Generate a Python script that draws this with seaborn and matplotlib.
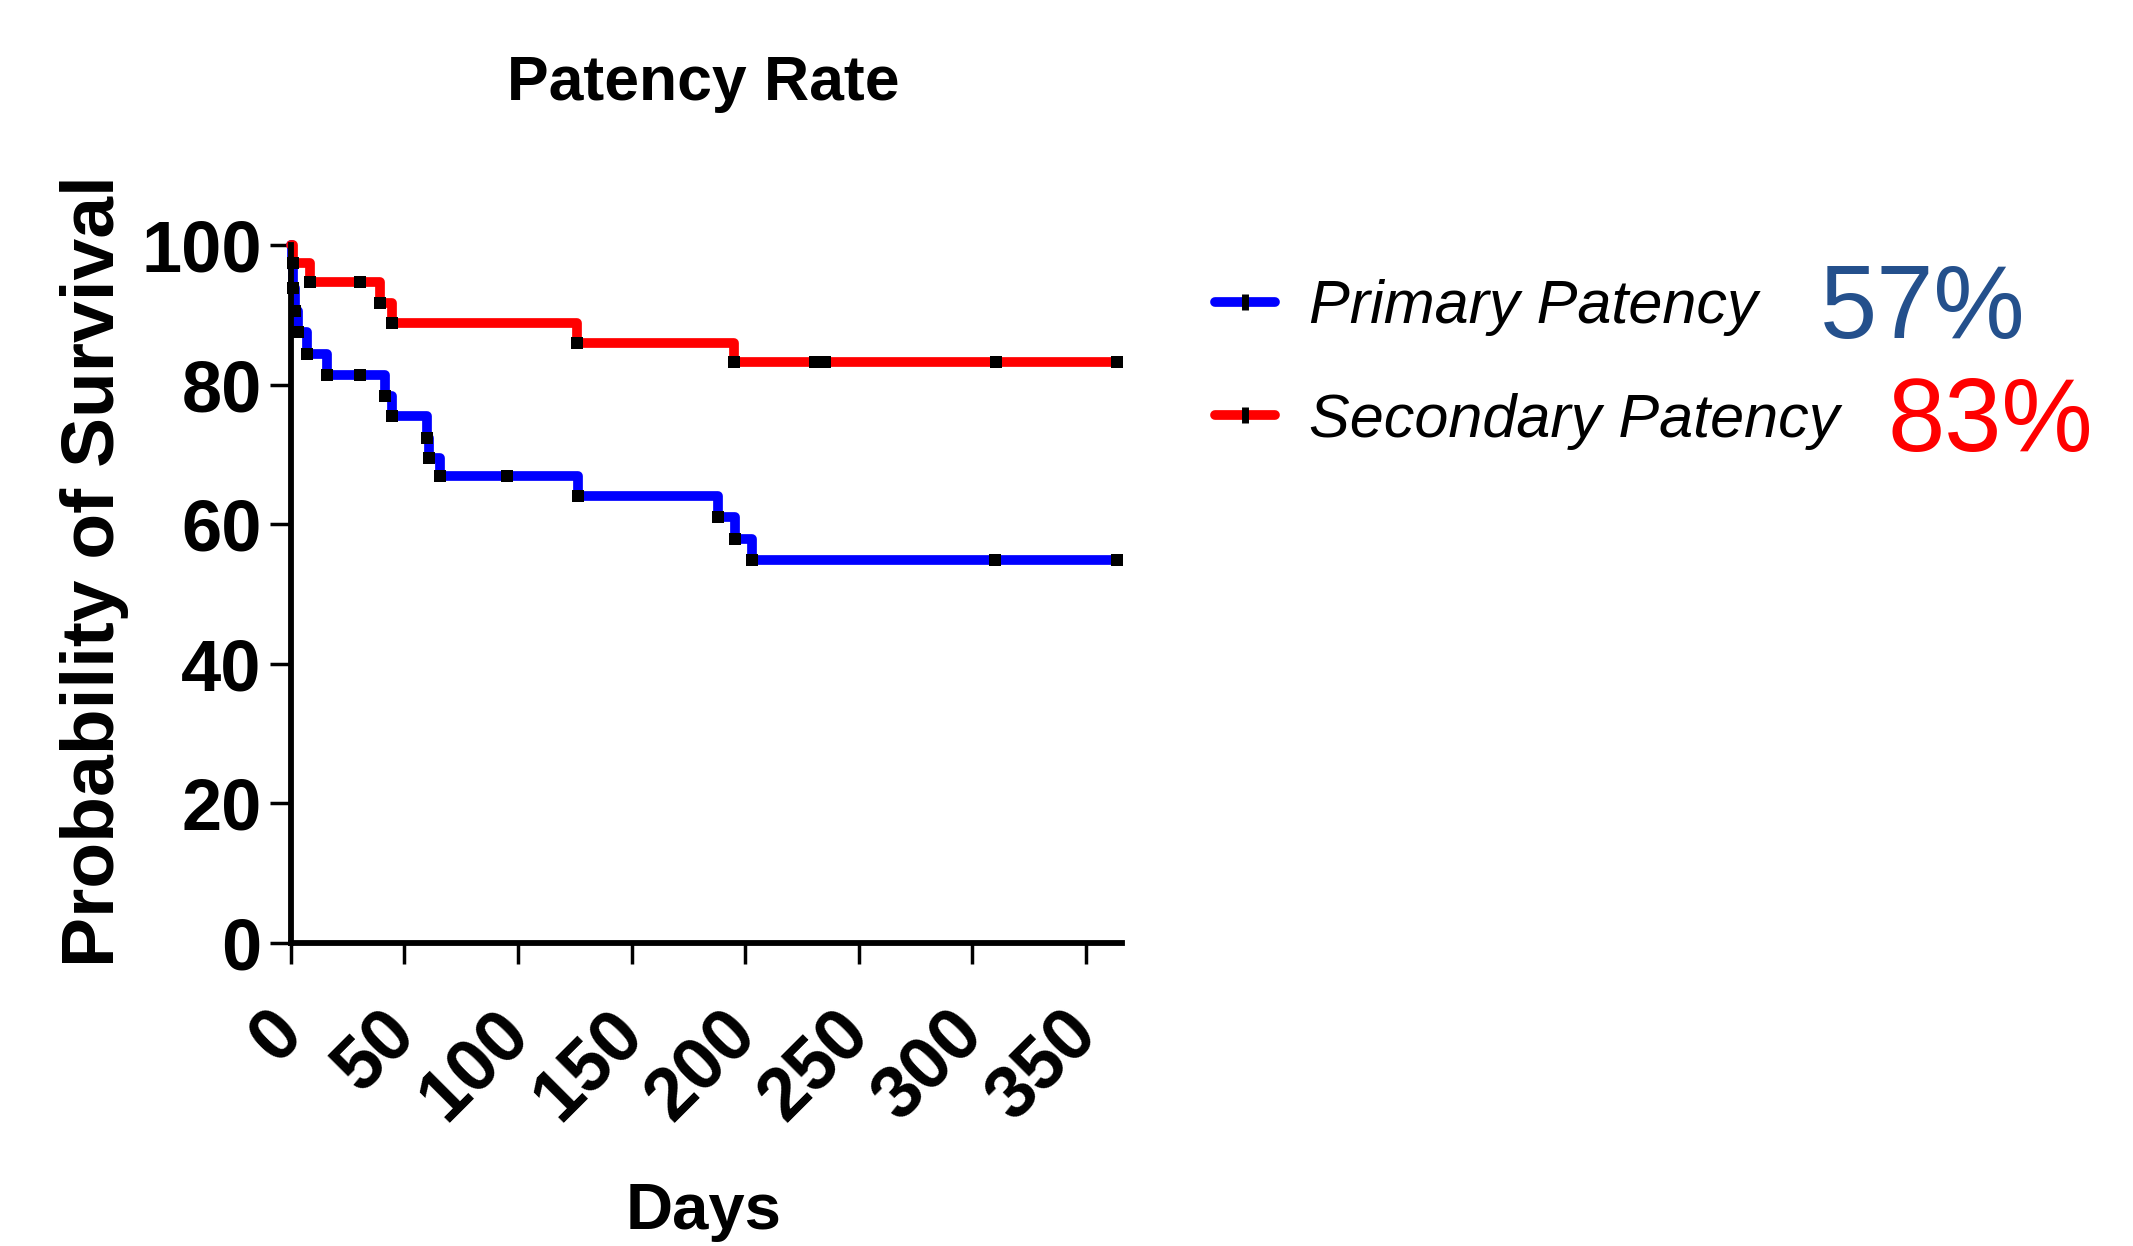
import numpy as np
import pandas as pd
import seaborn as sns
import matplotlib.pyplot as plt
from matplotlib.lines import Line2D

# Kaplan-Meier steps (days, % surviving)
primary_days = [0, 0.3, 1.0, 1.8, 3.2, 6.9, 15.7, 30.4, 41.3, 44.7, 59.9, 60.7, 65.8, 95.3, 126.5, 188, 195.7, 203, 310, 364]
primary_surv = [100, 96.9, 93.8, 90.6, 87.5, 84.4, 81.3, 81.3, 78.4, 75.5, 72.4, 69.5, 66.9, 66.9, 64.0, 61.0, 57.9, 54.8, 54.8, 54.8]
secondary_days = [0, 1.0, 8.4, 30.4, 39.2, 44.4, 126, 195, 231, 235, 310.5, 364]
secondary_surv = [100, 97.4, 94.7, 94.7, 91.7, 88.8, 86.0, 83.3, 83.3, 83.3, 83.3, 83.3]

groups = ['Primary Patency', 'Secondary Patency']
colors = ['#0000FF', '#FF0000']
final_pct = ['57%', '83%']
pct_colors = ['#24508C', '#FF0000']
xticks = [0, 50, 100, 150, 200, 250, 300, 350]
yticks = [0, 20, 40, 60, 80, 100]

df = pd.concat([
    pd.DataFrame({'Days': primary_days, 'Surv': primary_surv, 'Group': groups[0]}),
    pd.DataFrame({'Days': secondary_days, 'Surv': secondary_surv, 'Group': groups[1]}),
], ignore_index=True)
marks = df[df.Days > 0.5]

sns.set_style('ticks')
plt.rcParams['font.family'] = ['Liberation Sans', 'DejaVu Sans']
plt.rcParams['text.color'] = 'black'
plt.rcParams['axes.labelcolor'] = 'black'
plt.rcParams['xtick.color'] = 'black'
plt.rcParams['ytick.color'] = 'black'

fig = plt.figure(figsize=(21.33, 12.46), dpi=100)
ax = fig.add_axes([0.1364, 0.2432, 0.3896, 0.5602])

sns.lineplot(data=df, x='Days', y='Surv', hue='Group', palette=colors,
             drawstyle='steps-post', estimator=None, sort=False,
             lw=7, legend=False, ax=ax, clip_on=False)
# censor / event ticks
sns.scatterplot(data=marks, x='Days', y='Surv', marker='s', color='black',
                s=85, linewidth=0, ax=ax, zorder=3, clip_on=False)

ax.set_xlim(0, 366)
ax.set_ylim(0, 100)
ax.set_xticks(xticks)
ax.set_yticks(yticks)
ax.set_yticklabels([str(t) for t in yticks], fontsize=52, fontweight='bold')
ax.set_xticklabels([str(t) for t in xticks], fontsize=53, fontweight='bold',
                   rotation=45, ha='right', va='center', rotation_mode='anchor')
ax.tick_params(axis='both', width=2.5, length=15, color='black')
ax.tick_params(axis='y', pad=6)
ax.tick_params(axis='x', pad=42)
sns.despine(ax=ax)
for s in ['left', 'bottom']:
    ax.spines[s].set_linewidth(4.2)
    ax.spines[s].set_color('black')

ax.set_xlabel('Days', fontsize=47, fontweight='bold')
ax.set_ylabel('Probability of Survival', fontsize=54, fontweight='bold')
ax.xaxis.set_label_coords(0.496, -0.386)
ax.xaxis.label.set_va('center')
ax.yaxis.set_label_coords(-0.236, 0.533)
ax.yaxis.label.set_va('center')

fig.text(0.3296, 0.9326, 'Patency Rate', fontsize=45, fontweight='bold',
         ha='center', va='center')

handles = [Line2D([], [], color=c, lw=7, marker='|', markeredgecolor='black',
                  markersize=12, markeredgewidth=5) for c in colors]
fig.legend(handles, groups, loc='center left', bbox_to_anchor=(0.5696, 0.7076),
           frameon=False, borderpad=0, borderaxespad=0, handlelength=0.98,
           handletextpad=0.56, labelspacing=0.93,
           prop={'style': 'italic', 'size': 44})

fig.text(0.8533, 0.7496, final_pct[0], fontsize=74, color=pct_colors[0], va='center')
fig.text(0.885, 0.6595, final_pct[1], fontsize=74, color=pct_colors[1], va='center')

fig.savefig('out.png', dpi=100)
